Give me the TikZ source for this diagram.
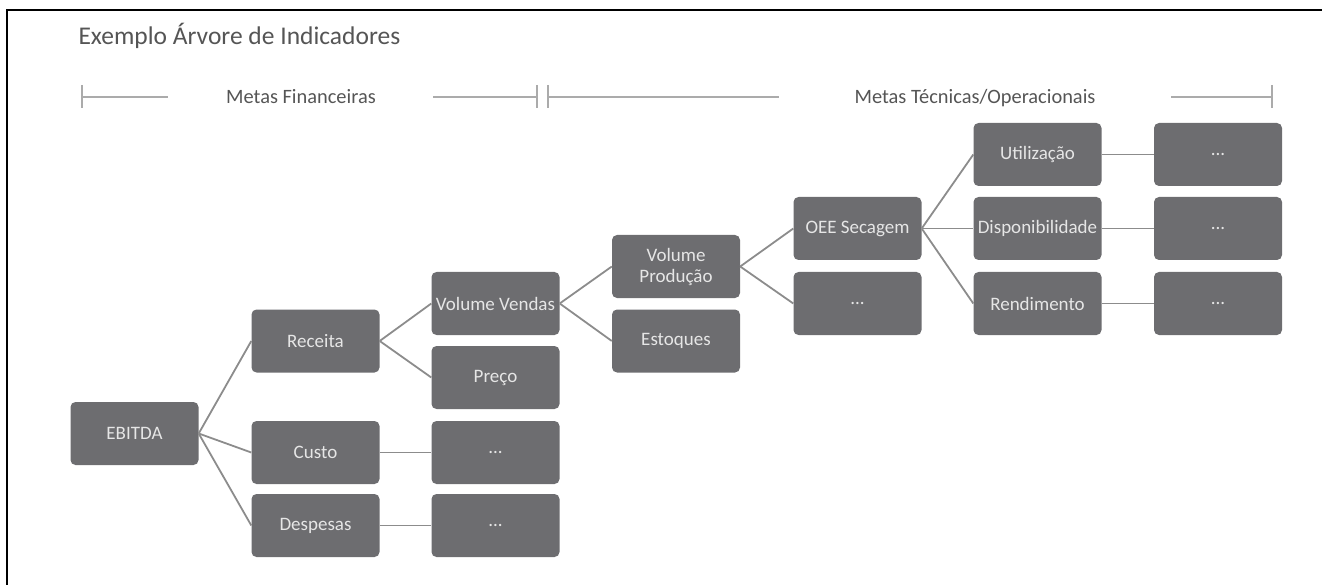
\documentclass[tikz,border=0pt]{standalone}
\usepackage{fontspec}
\setmainfont{Carlito}
\usepackage{xcolor}
\usepackage{tikz}
\usetikzlibrary{positioning}
\definecolor{boxgray}{HTML}{6D6D70}
\definecolor{boxtext}{HTML}{E6E6E6}
\definecolor{edgegray}{HTML}{8C8C8C}
\definecolor{bargray}{HTML}{ABABAB}
\definecolor{titlegray}{HTML}{555555}
\tikzstyle{kpi}=[rectangle,rounded corners=5pt,fill=boxgray,text=boxtext,minimum width=128pt,minimum height=63pt,inner sep=0pt,align=center,font=\fontsize{19}{21}\selectfont]
\tikzstyle{link} = [draw,line width=1.8pt,edgegray]
\tikzstyle{bar} = [draw,line width=1.6pt,bargray]
\tikzstyle{goal} = [font=\fontsize{20.4}{24}\selectfont,text=titlegray,anchor=base]
\newcommand{\mais}{...}

\begin{document}
\begin{tikzpicture}[x=1pt,y=-1pt]

 \useasboundingbox (0,0) rectangle (1322,585);
 \draw[line width=1.5pt] (7,585) -- (7,10) -- (1322,10);

 \node[anchor=base west, text=titlegray, font=\fontsize{25.5}{30}\selectfont] (title) at (75,45) {Exemplo Árvore de Indicadores};

 %metas
 \node[goal] (fin) at (301,104) {Metas Financeiras};
 \node[goal] (tec) at (975,104) {Metas Técnicas/Operacionais};

 \foreach \x in {82,537,548,1272}
        \path[bar] (\x,85) -- (\x,108);
 \foreach \a/\b in {82/168, 433/537, 548/779, 1171/1272}
        \path[bar] (\a,97) -- (\b,97);

 %financeiras
   \foreach \x/\y/\name/\label in {134.5/433.5/ebitda/EBITDA, 315.5/341/receita/Receita, 315.5/452.5/custo/Custo, 315.5/525.5/despesas/Despesas}
          \node[kpi] (\name) at (\x,\y) {\label};

   \foreach \x/\y/\name/\label in {495.5/303.5/vendas/Volume Vendas, 495.5/377.5/preco/Preço, 495.5/452.5/d1/\mais, 495.5/525.5/d2/\mais}
          \node[kpi] (\name) at (\x,\y) {\label};

 %tecnicas
   \foreach \x/\y/\name/\label in {676/266.5/producao/{Volume\\Produção}, 676/341/estoques/Estoques, 857.5/228.5/oee/OEE Secagem, 857.5/303.5/d3/\mais}
          \node[kpi] (\name) at (\x,\y) {\label};

   \foreach \x/\y/\name/\label in {1037.5/154.5/util/Utilização, 1037.5/228.5/disp/Disponibilidade, 1037.5/303.5/rend/Rendimento}
          \node[kpi] (\name) at (\x,\y) {\label};

   \foreach \x/\y/\name/\label in {1218/154.5/d4/\mais, 1218/228.5/d5/\mais, 1218/303.5/d6/\mais}
          \node[kpi] (\name) at (\x,\y) {\label};

  \foreach \source/ \dest in {ebitda/receita, ebitda/custo, ebitda/despesas, receita/vendas, receita/preco, custo/d1, despesas/d2}
         \path[link] (\source.east) -- (\dest.west);

  \foreach \source/ \dest in {vendas/producao, vendas/estoques, producao/oee, producao/d3, oee/util, oee/disp, oee/rend, util/d4, disp/d5, rend/d6}
         \path[link] (\source.east) -- (\dest.west);

\end{tikzpicture}
\end{document}
